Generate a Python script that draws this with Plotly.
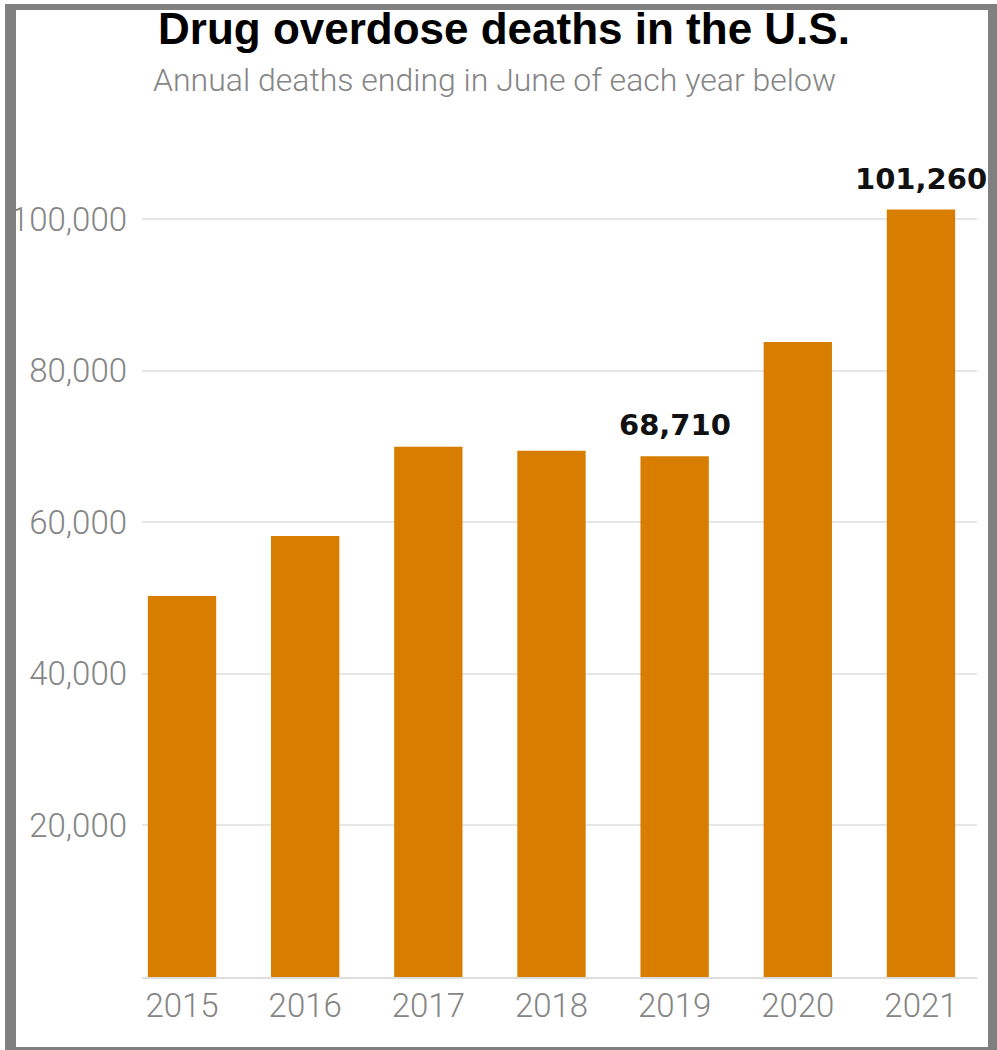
"""Drug overdose deaths in the U.S. — annual deaths ending in June, 2015-2021."""
import plotly.graph_objects as go

# Données
years = ["2015", "2016", "2017", "2018", "2019", "2020", "2021"]
deaths = [50270, 58190, 69970, 69440, 68710, 83800, 101260]
labelled_years = ["2019", "2021"]
y_ticks = [20000, 40000, 60000, 80000, 100000]
y_tick_text = ["20,000", "40,000", "60,000", "80,000", "100,000"]

BAR_COLOR = "#D77E00"
GRAY_TEXT = "#858585"
GRID = "#E6E6E6"
FRAME = "#808080"

W, H = 997, 1050
L, R, T, B = 142, 20, 150, 73  # marges en pixels
PLOT_W, PLOT_H = W - L - R, H - T - B


def px_x(px):
    """Pixel horizontal -> coordonnée paper."""
    return (px - L) / PLOT_W


def px_y(py):
    """Pixel vertical -> coordonnée paper."""
    return (H - B - py) / PLOT_H


fig = go.Figure()
fig.add_trace(go.Bar(
    x=years,
    y=deaths,
    marker=dict(color=BAR_COLOR, line=dict(width=0)),
    width=0.555,
    hoverinfo="skip",
))

# Étiquettes de valeurs au-dessus de certaines barres
for i, (yr, val) in enumerate(zip(years, deaths)):
    if yr in labelled_years:
        fig.add_annotation(
            x=i, y=val, xref="x", yref="y", text=f"{val:,}",
            showarrow=False, xanchor="center", yanchor="bottom", yshift=12,
            font=dict(family="DejaVu Sans", size=29, color="#111111", weight="bold"),
        )

# Titre et sous-titre
fig.add_annotation(
    text="Drug overdose deaths in the U.S.",
    xref="paper", yref="paper", x=px_x(504), y=px_y(29),
    showarrow=False, xanchor="center", yanchor="middle",
    font=dict(family="Liberation Sans", size=44, color="#000000", weight="bold"),
)
fig.add_annotation(
    text="Annual deaths ending in June of each year below",
    xref="paper", yref="paper", x=px_x(494), y=px_y(80),
    showarrow=False, xanchor="center", yanchor="middle",
    font=dict(family="Roboto", size=32, color=GRAY_TEXT, weight=300),
)

# Cadre gris autour de l'image
frame = [(5, 4, 16, 1050), (5, 4, 997, 10), (988, 4, 997, 1050), (5, 1047, 997, 1050)]
for x0, y0, x1, y1 in frame:
    fig.add_shape(
        type="rect", xref="paper", yref="paper",
        x0=px_x(x0), x1=px_x(x1), y0=px_y(y0), y1=px_y(y1),
        fillcolor=FRAME, line=dict(width=0), layer="above",
    )

fig.update_layout(
    width=W, height=H,
    margin=dict(l=L, r=R, t=T, b=B, pad=0),
    plot_bgcolor="white",
    paper_bgcolor="white",
    showlegend=False,
    bargap=0.445,
    xaxis=dict(
        type="category",
        range=[-0.325, 6.455],
        showgrid=False,
        showline=True, linecolor="#DDDDDD", linewidth=2,
        ticks="", ticklabelstandoff=-2,
        tickfont=dict(family="Roboto", size=33, color=GRAY_TEXT, weight=300),
        fixedrange=True,
    ),
    yaxis=dict(
        range=[0, PLOT_H / 7.579 * 1000],
        tickvals=y_ticks, ticktext=y_tick_text,
        showgrid=True, gridcolor=GRID, gridwidth=1.5,
        zeroline=False, showline=False,
        ticks="", ticklabelstandoff=14,
        tickfont=dict(family="Roboto", size=33, color=GRAY_TEXT, weight=300),
        fixedrange=True,
    ),
)

# pas de marge autour du graphique dans la page, pas de barre d'outils
fig.write_html(
    "out.html",
    config={"displayModeBar": False},
    post_script="document.body.style.margin='0';",
)
